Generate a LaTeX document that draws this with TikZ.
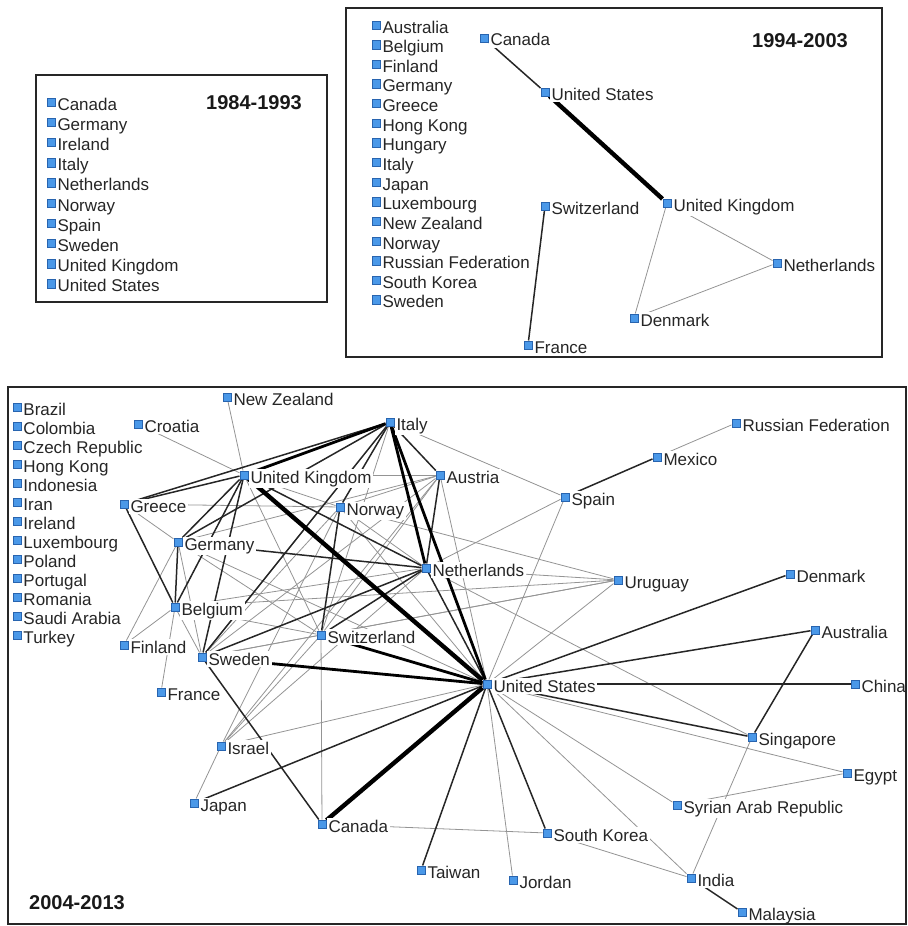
\documentclass[tikz,border=0pt]{standalone}
\usepackage{fontspec}
\setmainfont{Liberation Sans}
\usepackage{tikz}
\usetikzlibrary{positioning,backgrounds}

\definecolor{sqblue}{RGB}{74,152,232}
\definecolor{sqedge}{RGB}{40,100,175}

\tikzset{
  cty/.style={draw=sqedge,fill=sqblue,minimum size=4.2pt,inner sep=0pt,line width=0.3pt},
  lbl/.style={font=\fontsize{8.5}{10}\selectfont,text=black!85,fill=white,anchor=base west,yshift=-4pt,inner sep=0.8pt},
  period/.style={font=\fontsize{10}{12}\selectfont\bfseries,text=black!90},
  panel/.style={draw=black!85,line width=1pt},
  tie1/.style={draw=black!42,line width=0.4pt},
  tie2/.style={draw=black!85,line width=0.75pt},
  tie3/.style={draw=black,line width=1.4pt},
  tie4/.style={draw=black,line width=2.2pt}
}

\begin{document}
\begin{tikzpicture}[x=0.5pt,y=-0.5pt]
  \useasboundingbox (0,0) rectangle (908,926);

  % 1984-1993
  \node (pA) [period] at (254,103) {1984-1993};
  \foreach \n [count=\i] in {Canada,Germany,Ireland,Italy,Netherlands,Norway,Spain,Sweden,United Kingdom,United States}
    \node (a\i) [cty,label={[lbl]east:\n}] at (51,{102+20.2*(\i-1)}) {};

  % 1994-2003
  \node (pB) [period] at (800,41) {1994-2003};
  \foreach \n [count=\i] in {Australia,Belgium,Finland,Germany,Greece,Hong Kong,Hungary,Italy,Japan,Luxembourg,New Zealand,Norway,Russian Federation,South Korea,Sweden}
    \node (b\i) [cty,label={[lbl]east:\n}] at (376,{25+19.64*(\i-1)}) {};
  \node (bCA) [cty,label={[lbl]east:Canada}] at (484,38) {};
  \node (bUS) [cty,label={[lbl]east:United States}] at (545,92) {};
  \node (bUK) [cty,label={[lbl]east:United Kingdom}] at (667,203) {};
  \node (bCH) [cty,label={[lbl]east:Switzerland}] at (545,206) {};
  \node (bNL) [cty,label={[lbl]east:Netherlands}] at (777,263) {};
  \node (bDK) [cty,label={[lbl]east:Denmark}] at (634,318) {};
  \node (bFR) [cty,label={[lbl]east:France}] at (528,345) {};
  \begin{scope}[on background layer]
    \draw[tie2] (bCA) -- (bUS);
    \draw[tie4] (bUS) -- (bUK);
    \draw[tie1] (bUK) -- (bNL);
    \draw[tie1] (bUK) -- (bDK);
    \draw[tie1] (bDK) -- (bNL);
    \draw[tie2] (bCH) -- (bFR);
  \end{scope}

  % 2004-2013
  \node (pC) [period] at (77,903) {2004-2013};
  \foreach \n [count=\i] in {Brazil,Colombia,Czech Republic,Hong Kong,Indonesia,Iran,Ireland,Luxembourg,Poland,Portugal,Romania,Saudi Arabia,Turkey}
    \node (c\i) [cty,label={[lbl]east:\n}] at (17,{407+19*(\i-1)}) {};
  \node (cNZ) [cty,label={[lbl]east:New Zealand}] at (227,397) {};
  \node (cHR) [cty,label={[lbl]east:Croatia}] at (138,424) {};
  \node (cIT) [cty,label={[lbl]east:Italy}] at (390,422) {};
  \node (cUK) [cty,label={[lbl]east:United Kingdom}] at (244,475) {};
  \node (cAT) [cty,label={[lbl]east:Austria}] at (440,475) {};
  \node (cGR) [cty,label={[lbl]east:Greece}] at (124,504) {};
  \node (cNO) [cty,label={[lbl]east:Norway}] at (340,507) {};
  \node (cDE) [cty,label={[lbl]east:Germany}] at (178,542) {};
  \node (cNL) [cty,label={[lbl]east:Netherlands}] at (426,568) {};
  \node (cBE) [cty,label={[lbl]east:Belgium}] at (175,607) {};
  \node (cFI) [cty,label={[lbl]east:Finland}] at (124,645) {};
  \node (cSE) [cty,label={[lbl]east:Sweden}] at (202,657) {};
  \node (cCH) [cty,label={[lbl]east:Switzerland}] at (321,635) {};
  \node (cFR) [cty,label={[lbl]east:France}] at (161,692) {};
  \node (cUS) [cty,label={[lbl]east:United States}] at (487,684) {};
  \node (cIL) [cty,label={[lbl]east:Israel}] at (221,746) {};
  \node (cJP) [cty,label={[lbl]east:Japan}] at (194,803) {};
  \node (cCA) [cty,label={[lbl]east:Canada}] at (322,824) {};
  \node (cTW) [cty,label={[lbl]east:Taiwan}] at (421,870) {};
  \node (cJO) [cty,label={[lbl]east:Jordan}] at (513,880) {};
  \node (cKR) [cty,label={[lbl]east:South Korea}] at (547,833) {};
  \node (cIN) [cty,label={[lbl]east:India}] at (691,878) {};
  \node (cMY) [cty,label={[lbl]east:Malaysia}] at (742,912) {};
  \node (cSY) [cty,label={[lbl]east:Syrian Arab Republic}] at (677,805) {};
  \node (cSG) [cty,label={[lbl]east:Singapore}] at (752,737) {};
  \node (cEG) [cty,label={[lbl]east:Egypt}] at (847,773) {};
  \node (cCN) [cty,label={[lbl]east:China}] at (855,684) {};
  \node (cAU) [cty,label={[lbl]east:Australia}] at (815,630) {};
  \node (cDK) [cty,label={[lbl]east:Denmark}] at (790,574) {};
  \node (cUY) [cty,label={[lbl]east:Uruguay}] at (618,580) {};
  \node (cES) [cty,label={[lbl]east:Spain}] at (565,497) {};
  \node (cMX) [cty,label={[lbl]east:Mexico}] at (657,457) {};
  \node (cRU) [cty,label={[lbl]east:Russian Federation}] at (736,423) {};

  \begin{scope}[on background layer]
    \foreach \a/\b in {cUK/cNZ,cUK/cHR,cUK/cAT,cUK/cCH,cUK/cNO,cGR/cNO,cGR/cDE,
        cDE/cFI,cDE/cSE,cDE/cCH,cDE/cUS,cDE/cAT,cBE/cFI,cBE/cFR,cBE/cCH,cBE/cUY,
        cBE/cSE,cBE/cNL,cNO/cUY,cNO/cIL,cNO/cSE,cNO/cUS,cNO/cAT,cNO/cNL,cAT/cUS,
        cAT/cCH,cAT/cSE,cAT/cIL,cNL/cES,cNL/cUY,cNL/cIL,cNL/cSG,cIT/cES,cIT/cCH,
        cCH/cCA,cCH/cUY,cCH/cIL,cSE/cUY,cSE/cCH,cIL/cJP,cIL/cUS,cUS/cEG,cUS/cSY,
        cUS/cIN,cUS/cJO,cUS/cUY,cUS/cES,cCA/cKR,cKR/cIN,cSG/cIN,cEG/cSY,cMX/cRU}
      \draw[tie1] (\a) -- (\b);
    \foreach \a/\b in {cNL/cUS,cCN/cUS,cAU/cUS,cDK/cUS,cSG/cUS,cJP/cUS,cTW/cUS,
        cKR/cUS,cES/cMX,cIN/cMY,cAU/cSG,cSE/cCA,cDE/cBE,cBE/cUK,cGR/cBE,cDE/cNL,
        cUK/cNL,cUK/cDE,cUK/cGR,cIT/cAT,cAT/cNL,cIT/cNO,cIT/cDE,cIT/cSE,cSE/cUK,
        cSE/cNL,cCH/cNL,cCH/cNO,cGR/cIT}
      \draw[tie2] (\a) -- (\b);
    \foreach \a/\b in {cIT/cUS,cIT/cNL,cIT/cUK,cSE/cUS,cCH/cUS}
      \draw[tie3] (\a) -- (\b);
    \foreach \a/\b in {cUK/cUS,cCA/cUS}
      \draw[tie4] (\a) -- (\b);
  \end{scope}

  % frames
  \draw[panel] (36,75) rectangle (327,302);
  \draw[panel] (346,8) rectangle (882,357);
  \draw[panel] (8,387) rectangle (906,924);
\end{tikzpicture}
\end{document}
